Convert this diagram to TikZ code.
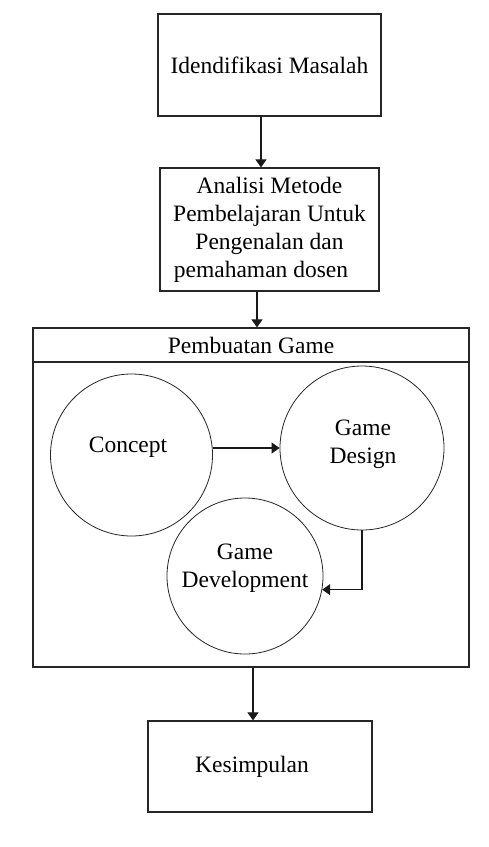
\documentclass[tikz,border=0pt]{standalone}
\usepackage{fontspec}
\setmainfont{Liberation Serif}
\usetikzlibrary{arrows.meta,positioning}
\begin{document}
\begin{tikzpicture}[x=1pt,y=-1pt,
  every node/.style={font=\fontsize{23.5}{28}\selectfont, inner sep=0pt},
  box/.style={draw=black!85, line width=1.2pt, rectangle},
  circ/.style={draw=black!85, line width=0.8pt, circle},
  txt/.style={align=center},
  arr/.style={draw=black!90, line width=1.1pt, -{Triangle[width=11pt,length=8pt]}}]
\useasboundingbox (0,0) rectangle (489,847);
\fill[white] (0,0) rectangle (489,847);

\node[box, minimum width=223pt, minimum height=102pt] (b1) at (269.5,65) {Idendifikasi Masalah};
\node[box, minimum width=219pt, minimum height=123pt, align=center] (b2) at (269.5,229.5)
  {Analisi Metode\\Pembelajaran Untuk\\Pengenalan dan\\pemahaman dosen\hspace*{17pt}};
\node[box, minimum width=436pt, minimum height=339pt] (cont) at (251,497.5) {};
\node[box, minimum width=436pt, minimum height=34pt] (hdr) at (251,345) {Pembuatan Game};
\node[box, minimum width=224pt, minimum height=91pt] (kes) at (260,766.5) {Kesimpulan\hspace*{16pt}};

\node[circ, minimum size=162pt] (c1) at (131.5,455) {};
\node[circ, minimum size=164pt] (c2) at (362,448) {};
\node[circ, minimum size=156pt] (c3) at (245,576) {};
\node[txt] (t1) at (128,447) {Concept};
\node[txt] (t2) at (363,444) {Game\\Design};
\node[txt] (t3) at (245,568) {Game\\Development};

\draw[arr] ([xshift=-8.5pt]b1.south) -- ([xshift=-8.5pt]b2.north);
\draw[arr] ([xshift=-12.5pt]b2.south) -- ([xshift=6pt]hdr.north);
\draw[arr] ([xshift=2pt]cont.south) -- ([xshift=-7pt]kes.north);
\draw[arr] (c1.east |- c2.west) -- (c2.west);
\draw[arr] (c2.south) |- (c3.-10);
\end{tikzpicture}
\end{document}
